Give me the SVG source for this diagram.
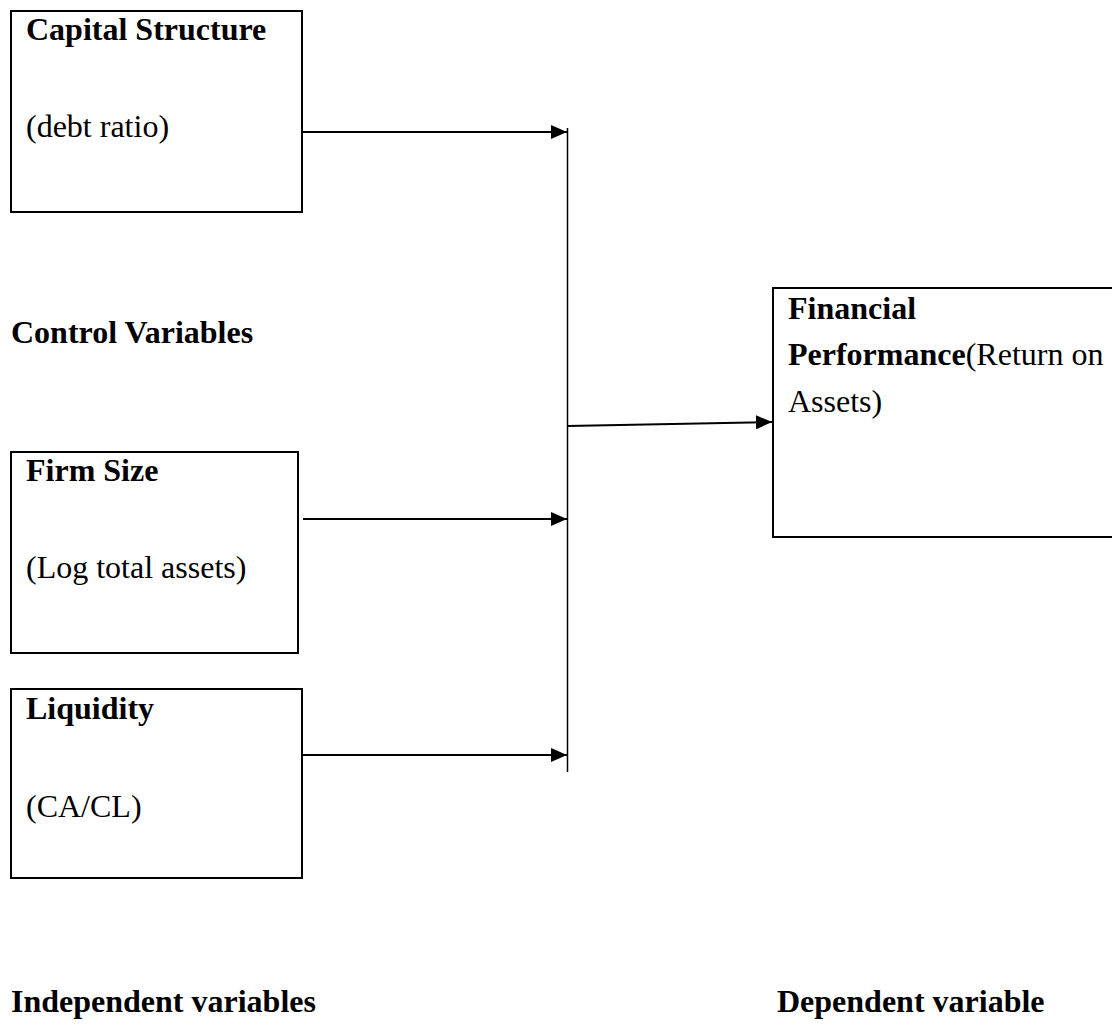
<svg xmlns="http://www.w3.org/2000/svg" width="1112" height="1025" viewBox="0 0 1112 1025">
<style>
.box{fill:#fff;stroke:#000;stroke-width:2}
text{font-family:"Liberation Serif","Times New Roman",serif;font-size:32px;fill:#000}
.b{font-weight:bold}
.ln{stroke:#000;stroke-width:2;fill:none}
</style>
<defs>
<marker id="ah" markerWidth="16" markerHeight="14" refX="16" refY="7" orient="auto" markerUnits="userSpaceOnUse">
<path d="M0,0 L16,7 L0,14 Z" fill="#000"/>
</marker>
</defs>
<rect width="1112" height="1025" fill="#fff"/>
<g id="capital-structure">
<rect class="box" x="11" y="11" width="291" height="201"/>
<text class="b" x="26" y="40">Capital Structure</text>
<text x="26" y="137">(debt ratio)</text>
</g>
<g id="control-label">
<text class="b" x="11" y="343">Control Variables</text>
</g>
<g id="firm-size">
<rect class="box" x="11" y="452" width="287" height="201"/>
<text class="b" x="26" y="481">Firm Size</text>
<text x="26" y="578">(Log total assets)</text>
</g>
<g id="liquidity">
<rect class="box" x="11" y="689" width="291" height="189"/>
<text class="b" x="26" y="719">Liquidity</text>
<text x="26" y="817">(CA/CL)</text>
</g>
<g id="financial-performance">
<rect class="box" x="773" y="288" width="345" height="249"/>
<text class="b" x="788" y="319">Financial</text>
<text x="788" y="365"><tspan class="b">Performance</tspan>(Return on</text>
<text x="788" y="412">Assets)</text>
</g>
<g id="connectors">
<line class="ln" x1="303" y1="132" x2="567" y2="132" marker-end="url(#ah)"/>
<line class="ln" x1="303" y1="519" x2="567" y2="519" marker-end="url(#ah)"/>
<line class="ln" x1="303" y1="755" x2="567" y2="755" marker-end="url(#ah)"/>
<line x1="567.5" y1="128" x2="567.5" y2="772" stroke="#000" stroke-width="1.5"/>
<line class="ln" x1="567" y1="426" x2="772" y2="422" marker-end="url(#ah)"/>
</g>
<g id="footer-labels">
<text class="b" x="11" y="1012">Independent variables</text>
<text class="b" x="777" y="1012">Dependent variable</text>
</g>
</svg>
